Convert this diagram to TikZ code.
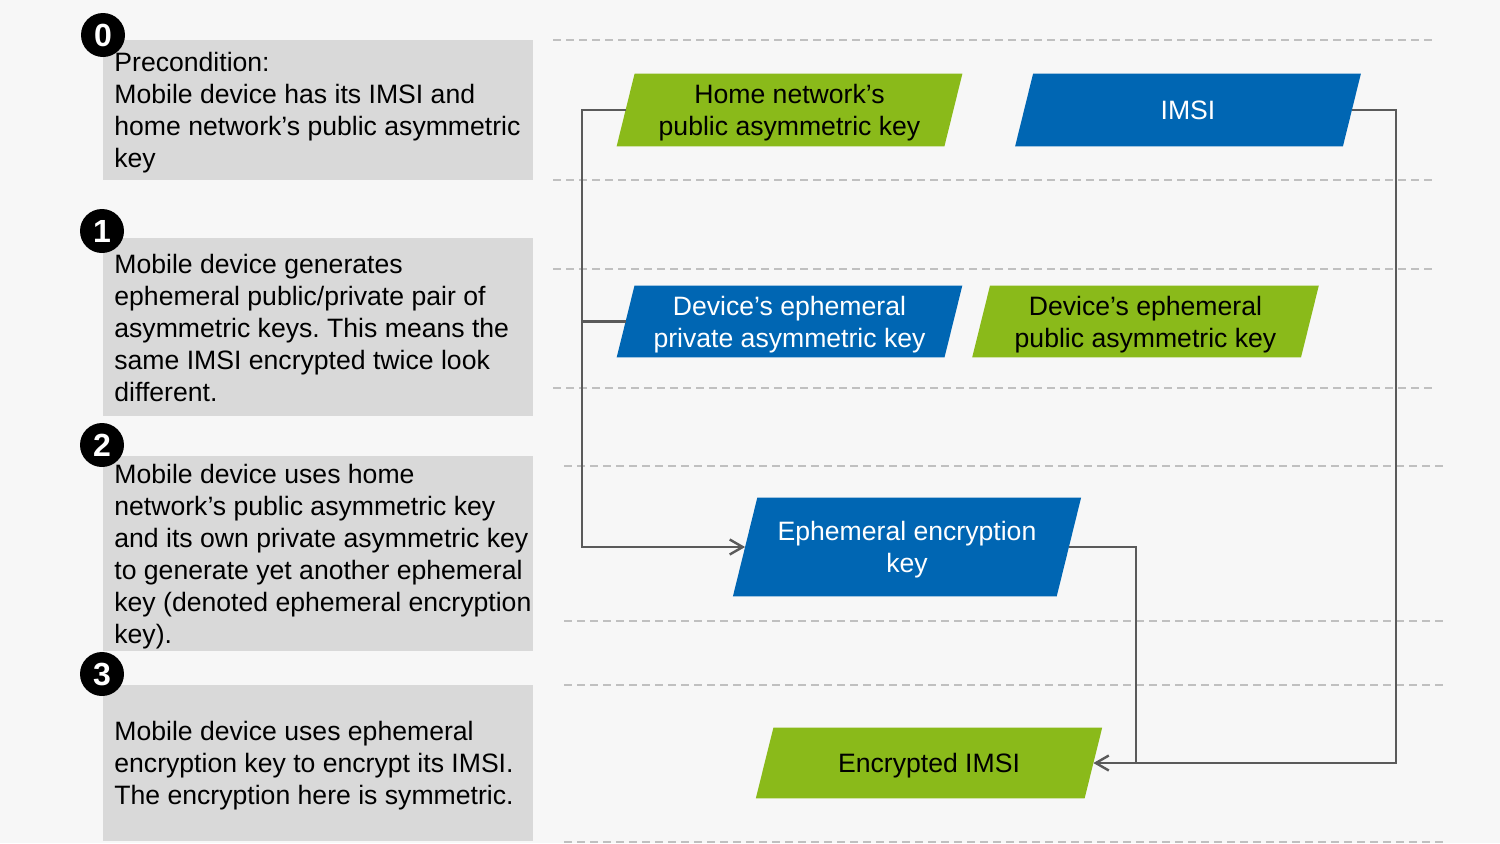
\documentclass[tikz,border=0pt]{standalone}
\usepackage{fontspec}
\setmainfont{Liberation Sans}
\usetikzlibrary{arrows.meta,backgrounds}
\frenchspacing
\definecolor{bg}{HTML}{F7F7F7}
\definecolor{boxgray}{HTML}{D9D9D9}
\definecolor{vgreen}{HTML}{8ABA1A}
\definecolor{vblue}{HTML}{0066B3}
\definecolor{dashgray}{HTML}{C0C0C0}
\definecolor{conngray}{HTML}{5A5A5A}
\newcommand\myup{\rule{0pt}{12.5pt}}
% fill a parallelogram behind a named node: name, colour, half slant
\newcommand\paral[3]{\fill[#2] ([xshift=#3]#1.north west) -- ([xshift=#3]#1.north east)
  -- ([xshift=-#3]#1.south east) -- ([xshift=-#3]#1.south west) -- cycle;}
\begin{document}
\begin{tikzpicture}[x=0.5pt,y=-0.5pt,
  para/.style={rectangle, inner sep=0pt, align=center,
    font=\fontsize{13.3}{16}\selectfont},
  gpara/.style={para, text=black},
  bpara/.style={para, text=white},
  stepbox/.style={fill=boxgray, anchor=north west, inner sep=0pt, minimum width=215pt},
  badge/.style={circle, fill=black, text=white, inner sep=0pt, minimum size=22pt,
    font=\fontsize{16}{16}\selectfont\bfseries},
  desc/.style={anchor=north west, inner sep=0pt, align=left, text=black,
    font=\fontsize{13.3}{16}\selectfont},
  guide/.style={dashgray, line width=1pt, dash pattern=on 4pt off 2.5pt},
  conn/.style={conngray, line width=1.2pt},
  arrowend/.style={-{Straight Barb[length=6.5pt,width=7.5pt]}}
]
\begin{pgfonlayer}{background}
\path[use as bounding box, fill=bg] (0,0) rectangle (1500,843);
\end{pgfonlayer}

% dashed guide lines
\foreach \yy in {40,180,269,388} {\draw[guide] (553,\yy) -- (1432,\yy);}
\foreach \yy in {466,621,685,842} {\draw[guide] (564,\yy) -- (1444,\yy);}

% step boxes
\node[stepbox, minimum height=70pt] (s0) at (103,40) {};
\node[stepbox, minimum height=89pt] (s1) at (103,238) {};
\node[stepbox, minimum height=97.5pt] (s2) at (103,456) {};
\node[stepbox, minimum height=78pt] (s3) at (103,685) {};

% descriptions
\node[desc] (d0) at (114,52) {Precondition:\\Mobile device has its IMSI and\\home network’s public asymmetric\\key};
\node[desc] (d1) at (114,254) {Mobile device generates\\ephemeral public/private pair of\\asymmetric keys. This means the\\same IMSI encrypted twice look\\different.};
\node[desc] (d2) at (114,464) {Mobile device uses home\\network’s public asymmetric key\\and its own private asymmetric key\\to generate yet another ephemeral\\key (denoted ephemeral encryption\\key).};
\node[desc] (d3) at (114,721) {Mobile device uses ephemeral\\encryption key to encrypt its IMSI.\\The encryption here is symmetric.};

% badges
\node[badge] (b0) at (103,35) {0};
\node[badge] (b1) at (102,231) {1};
\node[badge] (b2) at (102,445) {2};
\node[badge] (b3) at (102,674) {3};

% parallelogram nodes (body = mid-height width)
\node[gpara, minimum width=163.5pt, minimum height=36pt] (home) at (789.5,110) {\myup Home network’s\\public asymmetric key};
\node[bpara, minimum width=163.5pt, minimum height=36pt] (imsi) at (1188,110) {IMSI};
\node[bpara, minimum width=163.5pt, minimum height=35.5pt] (priv) at (789.5,321.5) {\myup Device’s ephemeral\\private asymmetric key};
\node[gpara, minimum width=164pt, minimum height=35.5pt] (pub) at (1145.5,321.5) {\myup Device’s ephemeral\\public asymmetric key};
\node[bpara, minimum width=161.5pt, minimum height=49pt] (eek) at (907,547) {\myup Ephemeral encryption\\key};
\node[gpara, minimum width=164pt, minimum height=35pt] (enc) at (929,763) {\myup Encrypted IMSI};

\begin{pgfonlayer}{background}
\paral{home}{vgreen}{4.5pt}
\paral{imsi}{vblue}{4.5pt}
\paral{priv}{vblue}{4.45pt}
\paral{pub}{vgreen}{4.45pt}
\paral{eek}{vblue}{6.1pt}
\paral{enc}{vgreen}{4.4pt}
\end{pgfonlayer}

% connectors
\coordinate (lx) at (582,0);
\coordinate (mx) at (1136,0);
\coordinate (rx) at (1396,0);
\draw[conn, arrowend] (home.west) -- (home.west -| lx) |- (eek.west);
\draw[conn] (priv.west) -- (priv.west -| lx);
\draw[conn, arrowend] (imsi.east) -- (imsi.east -| rx) |- (enc.east);
\draw[conn] (eek.east) -- (eek.east -| mx) -- (enc.east -| mx);
\end{tikzpicture}
\end{document}
